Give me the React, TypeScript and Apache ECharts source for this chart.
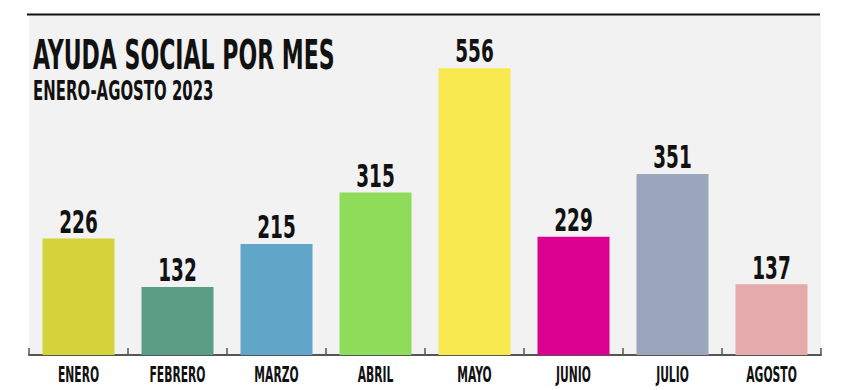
import React, { useEffect, useRef } from "react";
import * as echarts from "echarts";

const categories = ["ENERO", "FEBRERO", "MARZO", "ABRIL", "MAYO", "JUNIO", "JULIO", "AGOSTO"];
const values = [226, 132, 215, 315, 556, 229, 351, 137];
const colors = ["#d4d43a", "#5b9e86", "#5fa6c9", "#8fdb5a", "#f7e94e", "#dc0090", "#9aa6bb", "#e5aaab"];
const title = "AYUDA SOCIAL POR MES";
const subtitle = "ENERO-AGOSTO 2023";

const FONT = '"DejaVu Sans Condensed", "DejaVu Sans", sans-serif';

export default function App() {
  const ref = useRef<HTMLDivElement>(null);
  useEffect(() => {
    if (!ref.current) return;
    const chart = echarts.init(ref.current, null, { renderer: "svg" });
    chart.setOption({
      animation: false,
      backgroundColor: "#ffffff",
      grid: {
        left: 29,
        right: 34,
        top: 15,
        bottom: 35,
        show: true,
        backgroundColor: "#f2f2f2",
        borderWidth: 0,
      },
      graphic: [
        {
          type: "line",
          shape: { x1: 27, y1: 14.5, x2: 820, y2: 14.5 },
          style: { stroke: "#111111", lineWidth: 2 },
          z: 10,
        },
        {
          type: "text",
          x: 33,
          y: 35,
          scaleX: 0.845,
          scaleY: 1.4,
          style: {
            text: title,
            fontFamily: FONT,
            fontWeight: "bold",
            fontSize: 29,
            fill: "#111111",
            verticalAlign: "top",
          },
          z: 10,
        },
        {
          type: "text",
          x: 33,
          y: 77,
          scaleX: 0.83,
          scaleY: 1.37,
          style: {
            text: subtitle,
            fontFamily: FONT,
            fontWeight: "bold",
            fontSize: 20,
            fill: "#111111",
            verticalAlign: "top",
          },
          z: 10,
        },
      ],
      xAxis: {
        type: "category",
        data: categories,
        boundaryGap: true,
        axisLine: { show: true, lineStyle: { color: "#555555", width: 2 } },
        axisTick: { show: true, inside: true, length: 7, lineStyle: { color: "#555555", width: 1.5 } },
        axisLabel: { show: false },
      },
      yAxis: {
        type: "value",
        min: 0,
        max: 659,
        show: false,
        splitLine: { show: false },
      },
      series: [
        {
          type: "bar",
          data: values.map((v, i) => ({ value: v, itemStyle: { color: colors[i] } })),
          barWidth: 72,
        },
        {
          type: "custom",
          data: values.map((v, i) => [i, v]),
          z: 5,
          renderItem: (params: any, api: any) => {
            const p = api.coord([api.value(0), api.value(1)]);
            return {
              type: "text",
              x: p[0],
              y: p[1] - 1,
              scaleX: 0.64,
              style: {
                text: String(api.value(1)),
                fontFamily: FONT,
                fontWeight: "bold",
                fontSize: 32,
                fill: "#111111",
                align: "center",
                verticalAlign: "bottom",
              },
            };
          },
        },
        {
          type: "custom",
          data: categories.map((c, i) => [i, 0]),
          z: 5,
          renderItem: (params: any, api: any) => {
            const p = api.coord([api.value(0), 0]);
            return {
              type: "text",
              x: p[0],
              y: p[1] + 20,
              scaleX: 0.57,
              style: {
                text: categories[params.dataIndex],
                fontFamily: FONT,
                fontWeight: "bold",
                fontSize: 21,
                fill: "#111111",
                align: "center",
                verticalAlign: "middle",
              },
            };
          },
        },
      ],
    });
    return () => chart.dispose();
  }, []);
  return <div ref={ref} style={{ width: 855, height: 390, position: "absolute", left: 0, top: 0 }} />;
}
